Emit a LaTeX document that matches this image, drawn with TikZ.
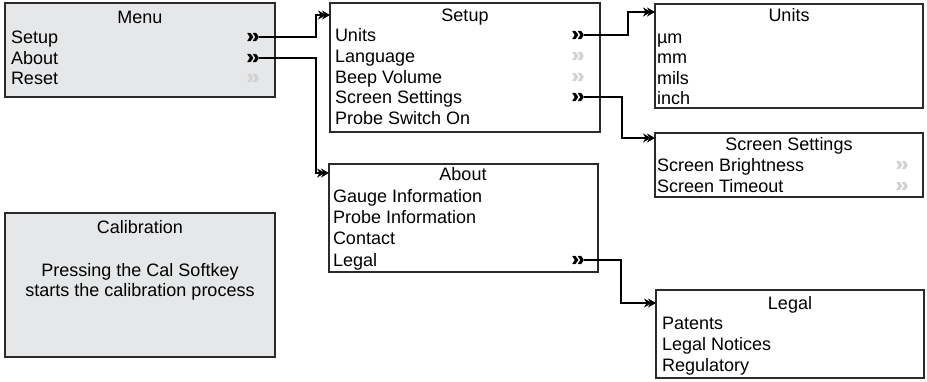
\documentclass[tikz,border=0pt]{standalone}
\usepackage{fontspec}
\setmainfont{Liberation Sans}
\usetikzlibrary{arrows.meta}
\definecolor{boxgray}{HTML}{E6E7E8}
\definecolor{edgec}{HTML}{2B2B2B}
\definecolor{chevoffc}{HTML}{D2D2D2}
\begin{document}
\begin{tikzpicture}[x=1pt,y=-1pt,
  every node/.style={inner sep=0pt, outer sep=0pt, font=\fontsize{18}{21}\selectfont},
  txt/.style={anchor=base west},
  ttl/.style={anchor=base},
  panel/.style={draw=edgec, line width=1.6pt, fill=white, anchor=north west},
  graypanel/.style={panel, fill=boxgray, line width=1.9pt},
  chev/.style={anchor=west, minimum width=12pt, minimum height=9pt,
    path picture={
      \begin{scope}[shift={(path picture bounding box.center)}]
        \fill[#1, rounded corners=0.6pt] (-6,-4.2) -- (-2.6,-4.2) -- (0.4,0) -- (-2.6,4.2) -- (-6,4.2) -- (-3.2,0) -- cycle;
        \fill[#1, rounded corners=0.6pt] (-0.4,-4.2) -- (3,-4.2) -- (6,0) -- (3,4.2) -- (-0.4,4.2) -- (2.4,0) -- cycle;
      \end{scope}}},
  chevon/.style={chev=black},
  chevoff/.style={chev=chevoffc},
  conn/.style={draw=black, line width=1.1pt, -{Stealth[length=8pt,width=9pt,sep=-4pt] Stealth[length=8pt,width=9pt]}},
]
\useasboundingbox (0,0) rectangle (927,381);

% panels
\node[graypanel, minimum width=270pt, minimum height=94pt] (menu) at (5,3) {};
\node[graypanel, minimum width=270pt, minimum height=144pt] (cal) at (5,213) {};
\node[panel, minimum width=270pt, minimum height=129pt] (setup) at (330,3) {};
\node[panel, minimum width=268pt, minimum height=104pt] (units) at (655,4) {};
\node[panel, minimum width=268pt, minimum height=64pt] (screen) at (655,133) {};
\node[panel, minimum width=269pt, minimum height=108pt] (about) at (329,164) {};
\node[panel, minimum width=268pt, minimum height=88pt] (legal) at (656,290) {};

% Menu
\node[ttl] (menuT) at (140,23) {Menu};
\node[txt] (mSetup) at (11,43) {Setup};
\node[txt] (mAbout) at (11,64) {About};
\node[txt] (mReset) at (11,84) {Reset};
\node[chevon] (chMSetup) at (247,37) {};
\node[chevon] (chMAbout) at (247,58) {};
\node[chevoff] (chMReset) at (247,78) {};

% Calibration
\node[ttl] (calT) at (140,233) {Calibration};
\node[ttl] (cal1) at (140,276) {Pressing the Cal Softkey};
\node[ttl] (cal2) at (140,296) {starts the calibration process};

% Setup
\node[ttl] (setupT) at (465,21) {Setup};
\node[txt] (sUnits) at (335,41) {Units};
\node[txt] (sLang) at (335,62) {Language};
\node[txt] (sBeep) at (335,83) {Beep Volume};
\node[txt] (sScreen) at (335,103) {Screen Settings};
\node[txt] (sProbe) at (335,124) {Probe Switch On};
\node[chevon] (chUnits) at (572,35) {};
\node[chevoff] (chLang) at (572,56) {};
\node[chevoff] (chBeep) at (572,77) {};
\node[chevon] (chScreen) at (572,97) {};

% Units
\node[ttl] (unitsT) at (789,21) {Units};
\node[txt] (uMu) at (657,43) {µm};
\node[txt] (uMm) at (657,63) {mm};
\node[txt] (uMils) at (657,84) {mils};
\node[txt] (uInch) at (657,104) {inch};

% Screen Settings
\node[ttl] (screenT) at (789,150) {Screen Settings};
\node[txt] (scBright) at (657,171) {Screen Brightness};
\node[txt] (scTime) at (657,192) {Screen Timeout};
\node[chevoff] (chBright) at (896,165) {};
\node[chevoff] (chTime) at (896,186) {};

% About
\node[ttl] (aboutT) at (463,180) {About};
\node[txt] (aGauge) at (333,202) {Gauge Information};
\node[txt] (aProbe) at (333,223) {Probe Information};
\node[txt] (aContact) at (333,244) {Contact};
\node[txt] (aLegal) at (333,266) {Legal};
\node[chevon] (chLegal) at (572,260) {};

% Legal
\node[ttl] (legalT) at (790,309) {Legal};
\node[txt] (lPat) at (662,329) {Patents};
\node[txt] (lNot) at (662,350) {Legal Notices};
\node[txt] (lReg) at (662,371) {Regulatory};

% elbows
\coordinate (j1) at (316,0);
\coordinate (j2) at (628,0);
\coordinate (j3) at (622,0);
\coordinate (j4) at (621,0);

% connectors
\draw[conn] (chMSetup.east) -- (chMSetup.east -| j1) |- ([yshift=-12pt]setup.north west);
\draw[conn] (chMAbout.east) -- (chMAbout.east -| j1) |- ([yshift=-9pt]about.north west);
\draw[conn] (chUnits.east) -- (chUnits.east -| j2) |- ([yshift=-8pt]units.north west);
\draw[conn] (chScreen.east) -- (chScreen.east -| j3) |- ([yshift=-5pt]screen.north west);
\draw[conn] (chLegal.east) -- (chLegal.east -| j4) |- ([yshift=-13pt]legal.north west);
\end{tikzpicture}
\end{document}
